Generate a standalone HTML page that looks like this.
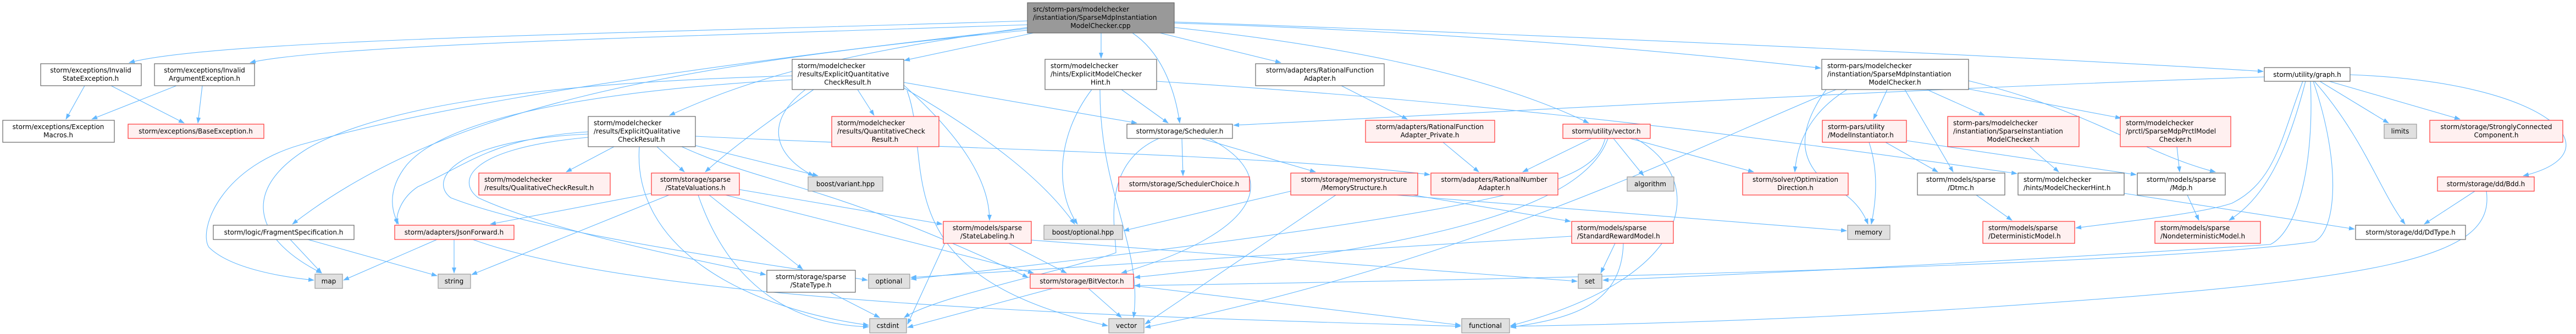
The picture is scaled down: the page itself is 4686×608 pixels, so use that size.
<!DOCTYPE html>
<html><head><meta charset="utf-8"><style>
html,body{margin:0;padding:0;background:#fff;}
svg{display:block;}
text{font-family:"DejaVu Sans","Liberation Sans",sans-serif;font-size:12px;fill:#000;}
.w{fill:#fff;stroke:#666;stroke-width:1.2;}
.r{fill:#fff0f0;stroke:#f33;stroke-width:1.2;}
.g{fill:#e0e0e0;stroke:#999;stroke-width:1.2;}
.root{fill:#999;stroke:#666;stroke-width:1.2;}
.e{fill:none;stroke:#63b8ff;stroke-width:1.1;marker-end:url(#a);}
</style></head><body>
<svg width="4686" height="608" viewBox="0 0 4686 608" xmlns="http://www.w3.org/2000/svg">
<defs><marker id="a" markerWidth="11" markerHeight="8" refX="10" refY="4" orient="auto" markerUnits="userSpaceOnUse"><path d="M0,0 L11,4 L0,8 z" fill="#63b8ff"/></marker></defs>
<g>
<!-- edges -->
<path class="e" d="M1869,38 C1200,60 400,70 235,114"/>
<path class="e" d="M1869,45 C1300,65 600,80 455,114"/>
<path class="e" d="M1880,60 L1645,110"/>
<path class="e" d="M1869,50 C1500,100 1350,150 1218,210"/>
<path class="e" d="M1869,55 C1200,120 800,200 532,408"/>
<path class="e" d="M1869,52 C1000,150 700,220 560,260 C400,300 360,420 380,450 C420,490 520,505 571,510"/>
<path class="e" d="M2003,60 L2003,106"/>
<path class="e" d="M2060,60 C2120,100 2140,180 2146,224"/>
<path class="e" d="M2110,60 L2330,114"/>
<path class="e" d="M2136,50 C2600,100 2800,180 2890,224"/>
<path class="e" d="M2136,42 C2700,60 3100,100 3312,124"/>
<path class="e" d="M2136,40 C3000,70 3800,110 4117,130"/>
<path class="e" d="M1560,163 L1590,210"/>
<path class="e" d="M1480,163 C1400,220 1330,270 1283,313"/>
<path class="e" d="M1465,163 C1380,230 1420,290 1480,320"/>
<path class="e" d="M1441,138 C1000,150 700,190 560,270 C430,350 470,440 585,497"/>
<path class="e" d="M1441,145 C1000,170 800,230 740,300 C700,350 715,390 725,408"/>
<path class="e" d="M1644,150 L2068,224"/>
<path class="e" d="M1644,155 C1750,250 1800,330 1800,401"/>
<path class="e" d="M1644,160 C1800,250 1900,330 1955,408"/>
<path class="e" d="M1650,165 C1700,300 1600,500 2015,593"/>
<path class="e" d="M1117,267 L1030,313"/>
<path class="e" d="M1195,267 L1245,313"/>
<path class="e" d="M1265,265 L1488,320"/>
<path class="e" d="M1070,250 C850,270 830,330 870,360 C1000,420 1250,470 1393,500"/>
<path class="e" d="M1070,244 C820,255 780,330 820,360 C1000,430 1400,480 1578,510"/>
<path class="e" d="M1163,267 C1150,450 1350,560 1580,592"/>
<path class="e" d="M1070,240 C900,250 850,300 760,340 C730,360 720,390 722,408"/>
<path class="e" d="M1265,248 C1700,270 2300,280 2601,318"/>
<path class="e" d="M1240,267 C1400,340 1500,330 1870,505"/>
<path class="e" d="M1185,352 L892,408"/>
<path class="e" d="M1217,355 L858,500"/>
<path class="e" d="M1290,355 L1460,490"/>
<path class="e" d="M1270,355 C1320,500 1420,590 1580,595"/>
<path class="e" d="M1345,345 L1714,408"/>
<path class="e" d="M1320,355 L1880,497"/>
<path class="e" d="M826,436 L826,497"/>
<path class="e" d="M795,436 L625,510"/>
<path class="e" d="M860,436 C1200,560 2200,580 2657,594"/>
<path class="e" d="M528,436 L585,497"/>
<path class="e" d="M560,436 L795,502"/>
<path class="e" d="M154,156 L120,217"/>
<path class="e" d="M202,156 L335,224"/>
<path class="e" d="M321,156 L167,217"/>
<path class="e" d="M368,156 L360,224"/>
<path class="e" d="M1986,163 C1920,250 1920,350 1960,408"/>
<path class="e" d="M2001,163 C2000,350 2080,450 2062,578"/>
<path class="e" d="M2040,163 L2125,224"/>
<path class="e" d="M2104,148 C2600,180 3000,220 3669,316"/>
<path class="e" d="M2150,252 L2152,320"/>
<path class="e" d="M2185,252 L2393,313"/>
<path class="e" d="M2200,252 C2330,320 2300,420 2040,497"/>
<path class="e" d="M2108,252 C2000,300 2030,420 2030,460 C1950,490 1700,540 1645,578"/>
<path class="e" d="M2440,156 L2560,217"/>
<path class="e" d="M2625,259 L2690,313"/>
<path class="e" d="M2895,252 L2770,313"/>
<path class="e" d="M2935,252 L2990,320"/>
<path class="e" d="M2965,252 L3190,313"/>
<path class="e" d="M2975,252 C3100,320 3100,500 2748,593"/>
<path class="e" d="M2920,252 C2900,330 2800,380 1657,508"/>
<path class="e" d="M2925,252 C2880,380 2600,450 2064,505"/>
<path class="e" d="M2570,355 L2857,403"/>
<path class="e" d="M2348,348 L2044,420"/>
<path class="e" d="M2540,355 L3359,420"/>
<path class="e" d="M2430,355 L2083,590"/>
<path class="e" d="M2938,443 L2912,497"/>
<path class="e" d="M2953,443 C2950,560 2850,580 2748,596"/>
<path class="e" d="M2859,430 L1657,505"/>
<path class="e" d="M1835,443 L1940,497"/>
<path class="e" d="M1876,437 L2869,512"/>
<path class="e" d="M1720,440 L1651,590"/>
<path class="e" d="M1980,525 L2040,578"/>
<path class="e" d="M1915,525 L1651,596"/>
<path class="e" d="M2062,520 L2657,592"/>
<path class="e" d="M1510,532 L1600,578"/>
<path class="e" d="M3433,163 L3408,217"/>
<path class="e" d="M3505,163 L3610,210"/>
<path class="e" d="M3465,163 L3553,313"/>
<path class="e" d="M3581,147 C3800,200 3900,280 4030,313"/>
<path class="e" d="M3581,162 L3858,215"/>
<path class="e" d="M3360,163 C3300,200 3270,250 3265,313"/>
<path class="e" d="M3322,163 C3260,250 3280,300 3330,340 C3380,360 3395,400 3398,408"/>
<path class="e" d="M3340,163 C3100,260 2700,470 2083,596"/>
<path class="e" d="M3400,259 C3420,320 3410,380 3404,408"/>
<path class="e" d="M3430,259 L3525,313"/>
<path class="e" d="M3468,256 L3886,318"/>
<path class="e" d="M3692,267 L3745,313"/>
<path class="e" d="M3960,267 L3965,313"/>
<path class="e" d="M3595,355 L3660,401"/>
<path class="e" d="M3979,355 L4000,401"/>
<path class="e" d="M3864,352 L4283,417"/>
<path class="e" d="M4220,148 L4345,224"/>
<path class="e" d="M4237,148 L4475,217"/>
<path class="e" d="M4275,136 C4650,150 4760,280 4590,320"/>
<path class="e" d="M4210,148 C4300,250 4330,350 4375,408"/>
<path class="e" d="M4189,148 C4150,250 4140,330 4060,370 C4000,390 3850,405 3776,415"/>
<path class="e" d="M4194,148 C4160,280 4120,360 4055,401"/>
<path class="e" d="M4203,148 C4210,300 4180,420 4130,445 C3900,460 3400,490 2916,510"/>
<path class="e" d="M4208,148 C4260,300 4250,420 4210,440 C4000,470 3300,500 2064,520"/>
<path class="e" d="M4119,140 C3500,160 2800,200 2244,228"/>
<path class="e" d="M4502,348 L4410,408"/>
<path class="e" d="M4523,348 C4540,470 4350,510 3600,560 C3300,580 3000,590 2748,594"/>
</g>
<g>
<!-- nodes -->
<rect class="root" x="1869" y="5" width="267" height="55"/>
<text x="1879" y="21">src/storm-pars/modelchecker</text><text x="1879" y="36">/instantiation/SparseMdpInstantiation</text><text x="2002" y="51" text-anchor="middle">ModelChecker.cpp</text>

<rect class="w" x="74" y="116" width="183" height="40"/>
<text x="165" y="132" text-anchor="middle">storm/exceptions/Invalid</text><text x="165" y="147" text-anchor="middle">StateException.h</text>
<rect class="w" x="281" y="116" width="182" height="40"/>
<text x="372" y="132" text-anchor="middle">storm/exceptions/Invalid</text><text x="372" y="147" text-anchor="middle">ArgumentException.h</text>
<rect class="w" x="5" y="219" width="203" height="40"/>
<text x="106" y="235" text-anchor="middle">storm/exceptions/Exception</text><text x="106" y="250" text-anchor="middle">Macros.h</text>
<rect class="r" x="233" y="226" width="247" height="26"/>
<text x="356" y="243" text-anchor="middle">storm/exceptions/BaseException.h</text>
<rect class="w" x="388" y="410" width="256" height="26"/>
<text x="516" y="427" text-anchor="middle">storm/logic/FragmentSpecification.h</text>
<rect class="g" x="573" y="499" width="50" height="26"/>
<text x="598" y="516" text-anchor="middle">map</text>
<rect class="r" x="718" y="410" width="217" height="26"/>
<text x="826" y="427" text-anchor="middle">storm/adapters/JsonForward.h</text>
<rect class="g" x="797" y="499" width="59" height="26"/>
<text x="826" y="516" text-anchor="middle">string</text>

<rect class="w" x="1441" y="108" width="203" height="55"/>
<text x="1451" y="124">storm/modelchecker</text><text x="1451" y="139">/results/ExplicitQuantitative</text><text x="1542" y="154" text-anchor="middle">CheckResult.h</text>
<rect class="w" x="1070" y="212" width="195" height="55"/>
<text x="1080" y="228">storm/modelchecker</text><text x="1080" y="243">/results/ExplicitQualitative</text><text x="1167" y="258" text-anchor="middle">CheckResult.h</text>
<rect class="r" x="871" y="315" width="239" height="40"/>
<text x="881" y="331">storm/modelchecker</text><text x="881" y="346">/results/QualitativeCheckResult.h</text>
<rect class="r" x="1185" y="315" width="160" height="40"/>
<text x="1265" y="331" text-anchor="middle">storm/storage/sparse</text><text x="1265" y="346" text-anchor="middle">/StateValuations.h</text>
<rect class="g" x="1470" y="322" width="136" height="26"/>
<text x="1538" y="339" text-anchor="middle">boost/variant.hpp</text>
<rect class="r" x="1513" y="212" width="195" height="55"/>
<text x="1523" y="228">storm/modelchecker</text><text x="1523" y="243">/results/QuantitativeCheck</text><text x="1610" y="258" text-anchor="middle">Result.h</text>
<rect class="w" x="1395" y="492" width="161" height="40"/>
<text x="1475" y="508" text-anchor="middle">storm/storage/sparse</text><text x="1475" y="523" text-anchor="middle">/StateType.h</text>
<rect class="g" x="1580" y="499" width="75" height="26"/>
<text x="1617" y="516" text-anchor="middle">optional</text>
<rect class="g" x="1582" y="580" width="67" height="26"/>
<text x="1615" y="597" text-anchor="middle">cstdint</text>

<rect class="w" x="1901" y="108" width="203" height="55"/>
<text x="1911" y="124">storm/modelchecker</text><text x="1911" y="139">/hints/ExplicitModelChecker</text><text x="2002" y="154" text-anchor="middle">Hint.h</text>
<rect class="w" x="2284" y="116" width="234" height="40"/>
<text x="2401" y="132" text-anchor="middle">storm/adapters/RationalFunction</text><text x="2401" y="147" text-anchor="middle">Adapter.h</text>
<rect class="w" x="2050" y="226" width="192" height="26"/>
<text x="2146" y="243" text-anchor="middle">storm/storage/Scheduler.h</text>
<rect class="r" x="2035" y="322" width="238" height="26"/>
<text x="2154" y="339" text-anchor="middle">storm/storage/SchedulerChoice.h</text>
<rect class="r" x="2348" y="315" width="231" height="40"/>
<text x="2463" y="331" text-anchor="middle">storm/storage/memorystructure</text><text x="2463" y="346" text-anchor="middle">/MemoryStructure.h</text>
<rect class="r" x="1716" y="403" width="160" height="40"/>
<text x="1796" y="419" text-anchor="middle">storm/models/sparse</text><text x="1796" y="434" text-anchor="middle">/StateLabeling.h</text>
<rect class="g" x="1899" y="410" width="143" height="26"/>
<text x="1970" y="427" text-anchor="middle">boost/optional.hpp</text>
<rect class="r" x="1874" y="499" width="188" height="26"/>
<text x="1968" y="516" text-anchor="middle">storm/storage/BitVector.h</text>
<rect class="g" x="2017" y="580" width="64" height="26"/>
<text x="2049" y="597" text-anchor="middle">vector</text>

<rect class="r" x="2484" y="219" width="235" height="40"/>
<text x="2601" y="235" text-anchor="middle">storm/adapters/RationalFunction</text><text x="2601" y="250" text-anchor="middle">Adapter_Private.h</text>
<rect class="r" x="2843" y="226" width="159" height="26"/>
<text x="2922" y="243" text-anchor="middle">storm/utility/vector.h</text>
<rect class="r" x="2603" y="315" width="231" height="40"/>
<text x="2718" y="331" text-anchor="middle">storm/adapters/RationalNumber</text><text x="2718" y="346" text-anchor="middle">Adapter.h</text>
<rect class="g" x="2960" y="322" width="85" height="26"/>
<text x="3002" y="339" text-anchor="middle">algorithm</text>
<rect class="r" x="2859" y="403" width="185" height="40"/>
<text x="2869" y="419">storm/models/sparse</text><text x="2869" y="434">/StandardRewardModel.h</text>
<rect class="g" x="2871" y="499" width="43" height="26"/>
<text x="2892" y="516" text-anchor="middle">set</text>
<rect class="g" x="2659" y="580" width="87" height="26"/>
<text x="2702" y="597" text-anchor="middle">functional</text>
<rect class="r" x="3170" y="315" width="192" height="40"/>
<text x="3266" y="331" text-anchor="middle">storm/solver/Optimization</text><text x="3266" y="346" text-anchor="middle">Direction.h</text>

<rect class="w" x="3314" y="108" width="267" height="55"/>
<text x="3324" y="124">storm-pars/modelchecker</text><text x="3324" y="139">/instantiation/SparseMdpInstantiation</text><text x="3447" y="154" text-anchor="middle">ModelChecker.h</text>
<rect class="r" x="3315" y="219" width="153" height="40"/>
<text x="3325" y="235">storm-pars/utility</text><text x="3325" y="250">/ModelInstantiator.h</text>
<rect class="r" x="3543" y="212" width="239" height="55"/>
<text x="3553" y="228">storm-pars/modelchecker</text><text x="3553" y="243">/instantiation/SparseInstantiation</text><text x="3662" y="258" text-anchor="middle">ModelChecker.h</text>
<rect class="r" x="3857" y="212" width="201" height="55"/>
<text x="3867" y="228">storm/modelchecker</text><text x="3867" y="243">/prctl/SparseMdpPrctlModel</text><text x="3957" y="258" text-anchor="middle">Checker.h</text>
<rect class="g" x="3361" y="410" width="77" height="26"/>
<text x="3399" y="427" text-anchor="middle">memory</text>
<rect class="w" x="3488" y="315" width="159" height="40"/>
<text x="3567" y="331" text-anchor="middle">storm/models/sparse</text><text x="3567" y="346" text-anchor="middle">/Dtmc.h</text>
<rect class="w" x="3671" y="315" width="193" height="40"/>
<text x="3681" y="331">storm/modelchecker</text><text x="3681" y="346">/hints/ModelCheckerHint.h</text>
<rect class="w" x="3888" y="315" width="160" height="40"/>
<text x="3968" y="331" text-anchor="middle">storm/models/sparse</text><text x="3968" y="346" text-anchor="middle">/Mdp.h</text>
<rect class="r" x="3607" y="403" width="167" height="40"/>
<text x="3617" y="419">storm/models/sparse</text><text x="3617" y="434">/DeterministicModel.h</text>
<rect class="r" x="3920" y="403" width="192" height="40"/>
<text x="3930" y="419">storm/models/sparse</text><text x="3930" y="434">/NondeterministicModel.h</text>

<rect class="w" x="4119" y="123" width="156" height="25"/>
<text x="4197" y="140" text-anchor="middle">storm/utility/graph.h</text>
<rect class="g" x="4337" y="226" width="59" height="26"/>
<text x="4366" y="243" text-anchor="middle">limits</text>
<rect class="r" x="4420" y="219" width="242" height="40"/>
<text x="4541" y="235" text-anchor="middle">storm/storage/StronglyConnected</text><text x="4541" y="250" text-anchor="middle">Component.h</text>
<rect class="r" x="4434" y="322" width="176" height="26"/>
<text x="4522" y="339" text-anchor="middle">storm/storage/dd/Bdd.h</text>
<rect class="w" x="4285" y="410" width="200" height="26"/>
<text x="4385" y="427" text-anchor="middle">storm/storage/dd/DdType.h</text>
</g>
</svg>
</body></html>
